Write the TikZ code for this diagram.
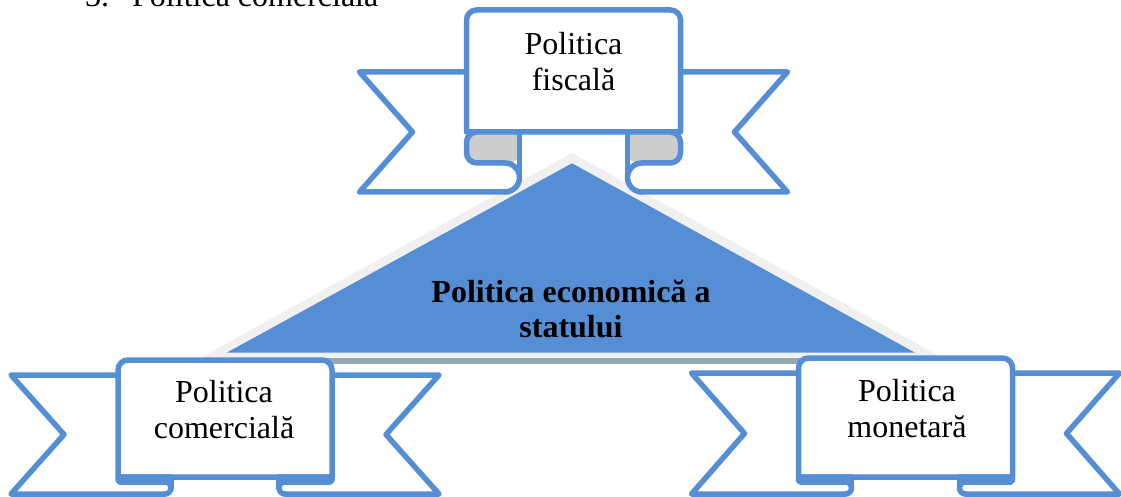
\documentclass[tikz,border=0pt]{standalone}
\usepackage{fontspec}
\setmainfont{Liberation Serif}

\definecolor{ribblue}{HTML}{558ED5}
\definecolor{foldgray}{HTML}{CCCCCC}
\definecolor{shadegray}{HTML}{F0F0F0}
\definecolor{baseband}{HTML}{93A9AF}

\tikzset{
  ribline/.style={draw=ribblue, line width=5.5pt, line join=round, line cap=round},
  ribtext/.style={align=center, font=\fontsize{32}{36}\selectfont, inner sep=0pt},
}

% ribbon: centre x, panel top, tails top, fold line, gray bottom, bottom
\newcommand{\drawribbon}[6]{%
  \pgfmathsetmacro\xa{#1-107}
  \pgfmathsetmacro\xb{#1+107}
  \pgfmathsetmacro\xl{#1-214}
  \pgfmathsetmacro\xr{#1+214}
  \pgfmathsetmacro\xc{#1-54}
  \pgfmathsetmacro\xd{#1+54}
  \pgfmathsetmacro\ym{(#3+#6)/2}
  \pgfmathsetmacro\rr{(#6-#5)/2}
  \pgfmathsetmacro\rc{(#5-#4)/3}
  %% tails
  \path[ribline, fill=white] (\xa,#3) -- (\xl,#3) -- (\xl+53,\ym) -- (\xl,#6) -- (\xc-\rr,#6);
  \path[ribline, fill=white] (\xb,#3) -- (\xr,#3) -- (\xr-53,\ym) -- (\xr,#6) -- (\xd+\rr,#6);
  %% front panel
  \path[ribline, fill=white] (\xa,#4) -- (\xa,#2+10) arc[start angle=180, end angle=270, radius=10]
    -- (\xb-10,#2) arc[start angle=270, end angle=360, radius=10] -- (\xb,#4) -- cycle;
  %% folds
  \fill[foldgray, rounded corners=\rc pt] (\xc,#4) -- (\xa,#4) -- (\xa,#5) -- (\xc,#5) -- cycle;
  \fill[foldgray, rounded corners=\rc pt] (\xd,#4) -- (\xb,#4) -- (\xb,#5) -- (\xd,#5) -- cycle;
  \draw[ribline, rounded corners=\rc pt] (\xc,#4) -- (\xa,#4) -- (\xa,#5) -- (\xc-\rr,#5);
  \draw[ribline, rounded corners=\rc pt] (\xd,#4) -- (\xb,#4) -- (\xb,#5) -- (\xd+\rr,#5);
  \draw[ribline] (\xc-\rr,#5) arc[start angle=-90, end angle=90, radius=\rr];
  \draw[ribline] (\xd+\rr,#5) arc[start angle=270, end angle=90, radius=\rr];
  \draw[ribline] (\xc,#4) -- (\xc,#5+\rr);
  \draw[ribline] (\xd,#4) -- (\xd,#5+\rr);
}

\begin{document}
\begin{tikzpicture}[x=1pt,y=-1pt]
  \useasboundingbox (0,0) rectangle (1121,497);
  \clip (0,0) rectangle (1121,497);
  %% list line cut by the top edge
  \node[ribtext, anchor=base west] (item) at (85,7) {3.\hspace{23pt}Politica comercială};
  %% triangle with its shade
  \fill[shadegray] (572,153) -- (201,357.5) -- (942,357.5) -- cycle;
  \fill[baseband] (215,357.5) rectangle (930,363.5);
  \fill[ribblue] (572,163.3) -- (226.7,352.7) -- (915,352.7) -- cycle;
  \node[ribtext, font=\fontsize{32}{35}\selectfont\bfseries] (stat) at (571,309) {Politica economică a\\statului};
  %% ribbons
  \drawribbon{573.5}{10}{72}{132}{163}{192}
  \drawribbon{225}{360}{375}{477}{482}{494}
  \drawribbon{905.5}{358}{373}{477}{482}{494}
  \node[ribtext] (fiscal) at (573.5,62) {Politica\\fiscală};
  \node[ribtext] (comert) at (224,410) {Politica\\comercială};
  \node[ribtext] (monet) at (907,409) {Politica\\monetară};
\end{tikzpicture}
\end{document}
